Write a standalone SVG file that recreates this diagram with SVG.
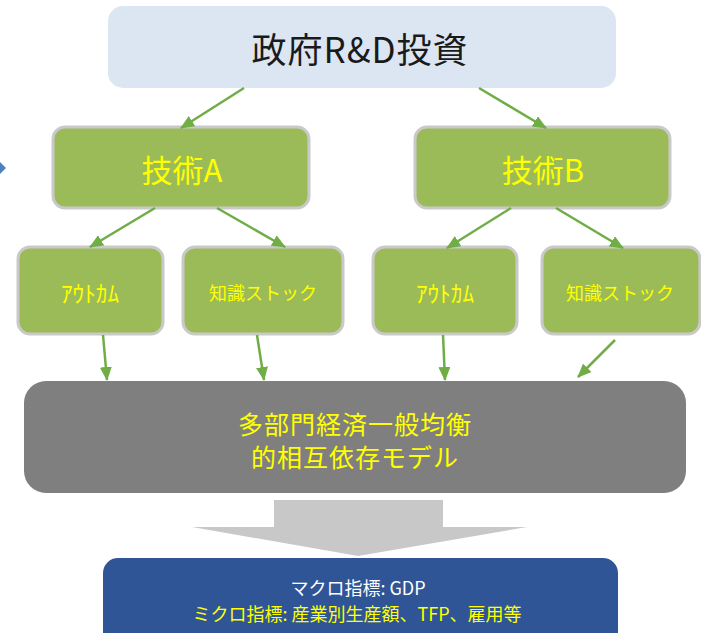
<svg xmlns="http://www.w3.org/2000/svg" width="701" height="633" viewBox="0 0 701 633">
<style>
text{font-family:"Noto Sans CJK JP","Noto Sans",sans-serif;text-anchor:middle;dominant-baseline:central}
.g{fill:#9bbb59;stroke:#c9c9c9;stroke-width:3}
.y{fill:#ffff00}
.c{stroke:#70ad47;stroke-width:2.5;fill:none;marker-end:url(#ah)}
</style>
<defs>
<marker id="ah" viewBox="0 0 14 12" refX="13" refY="6" markerWidth="14" markerHeight="12" markerUnits="userSpaceOnUse" orient="auto">
<path d="M0,0 L14,6 L0,12 z" fill="#70ad47"/>
</marker>
</defs>
<rect width="701" height="633" fill="#ffffff"/>
<polygon points="0,162 6,168 0,174" fill="#4f81bd"/>
<g id="gov">
<rect x="108" y="6" width="508" height="82" rx="15" fill="#dce6f2"/>
<text x="360" y="47" font-size="35" letter-spacing="1" fill="#1a1a1a">政府R&amp;D投資</text>
</g>
<g id="techA">
<rect class="g" x="53" y="127" width="256" height="81" rx="12"/>
<text class="y" x="182" y="168" font-size="31">技術A</text>
</g>
<g id="techB">
<rect class="g" x="415" y="127" width="255" height="81" rx="12"/>
<text class="y" x="543" y="168" font-size="31">技術B</text>
</g>
<g id="outA">
<rect class="g" x="18" y="247" width="145" height="87" rx="12"/>
<text class="y" x="90" y="292" font-size="23" textLength="58" lengthAdjust="spacingAndGlyphs">ｱｳﾄｶﾑ</text>
</g>
<g id="knowA">
<rect class="g" x="183" y="247" width="160" height="87" rx="12"/>
<text class="y" x="263" y="292" font-size="18">知識ストック</text>
</g>
<g id="outB">
<rect class="g" x="373" y="247" width="144" height="87" rx="12"/>
<text class="y" x="445" y="292" font-size="23" textLength="58" lengthAdjust="spacingAndGlyphs">ｱｳﾄｶﾑ</text>
</g>
<g id="knowB">
<rect class="g" x="542" y="247" width="158" height="87" rx="12"/>
<text class="y" x="620" y="292" font-size="18">知識ストック</text>
</g>
<g id="model">
<rect x="24" y="381" width="662" height="112" rx="22" fill="#7f7f7f"/>
<text class="y" x="355" y="423" font-size="25" letter-spacing="1">多部門経済一般均衡</text>
<text class="y" x="355" y="456" font-size="25" letter-spacing="1">的相互依存モデル</text>
</g>
<g id="bigArrow">
<polygon points="274,500 443,500 443,527 527,527 358,556 192,527 274,527" fill="#c8c8c8"/>
</g>
<g id="result">
<rect x="103" y="558" width="515" height="95" rx="15" fill="#2f5597"/>
<text x="358" y="587" font-size="18" fill="#ffffff">マクロ指標: GDP</text>
<text class="y" x="357" y="613" font-size="18">ミクロ指標: 産業別生産額、TFP、雇用等</text>
</g>
<g id="connectors">
<line class="c" x1="244" y1="88" x2="181" y2="128"/>
<line class="c" x1="479" y1="88" x2="546" y2="128"/>
<line class="c" x1="155" y1="208" x2="90" y2="247"/>
<line class="c" x1="217" y1="208" x2="285" y2="247"/>
<line class="c" x1="511" y1="208" x2="447" y2="248"/>
<line class="c" x1="556" y1="208" x2="623" y2="248"/>
<line class="c" x1="103" y1="335" x2="107" y2="380"/>
<line class="c" x1="257" y1="335" x2="264" y2="380"/>
<line class="c" x1="443" y1="335" x2="445" y2="380"/>
<line class="c" x1="615" y1="340" x2="578" y2="377"/>
</g>
</svg>
